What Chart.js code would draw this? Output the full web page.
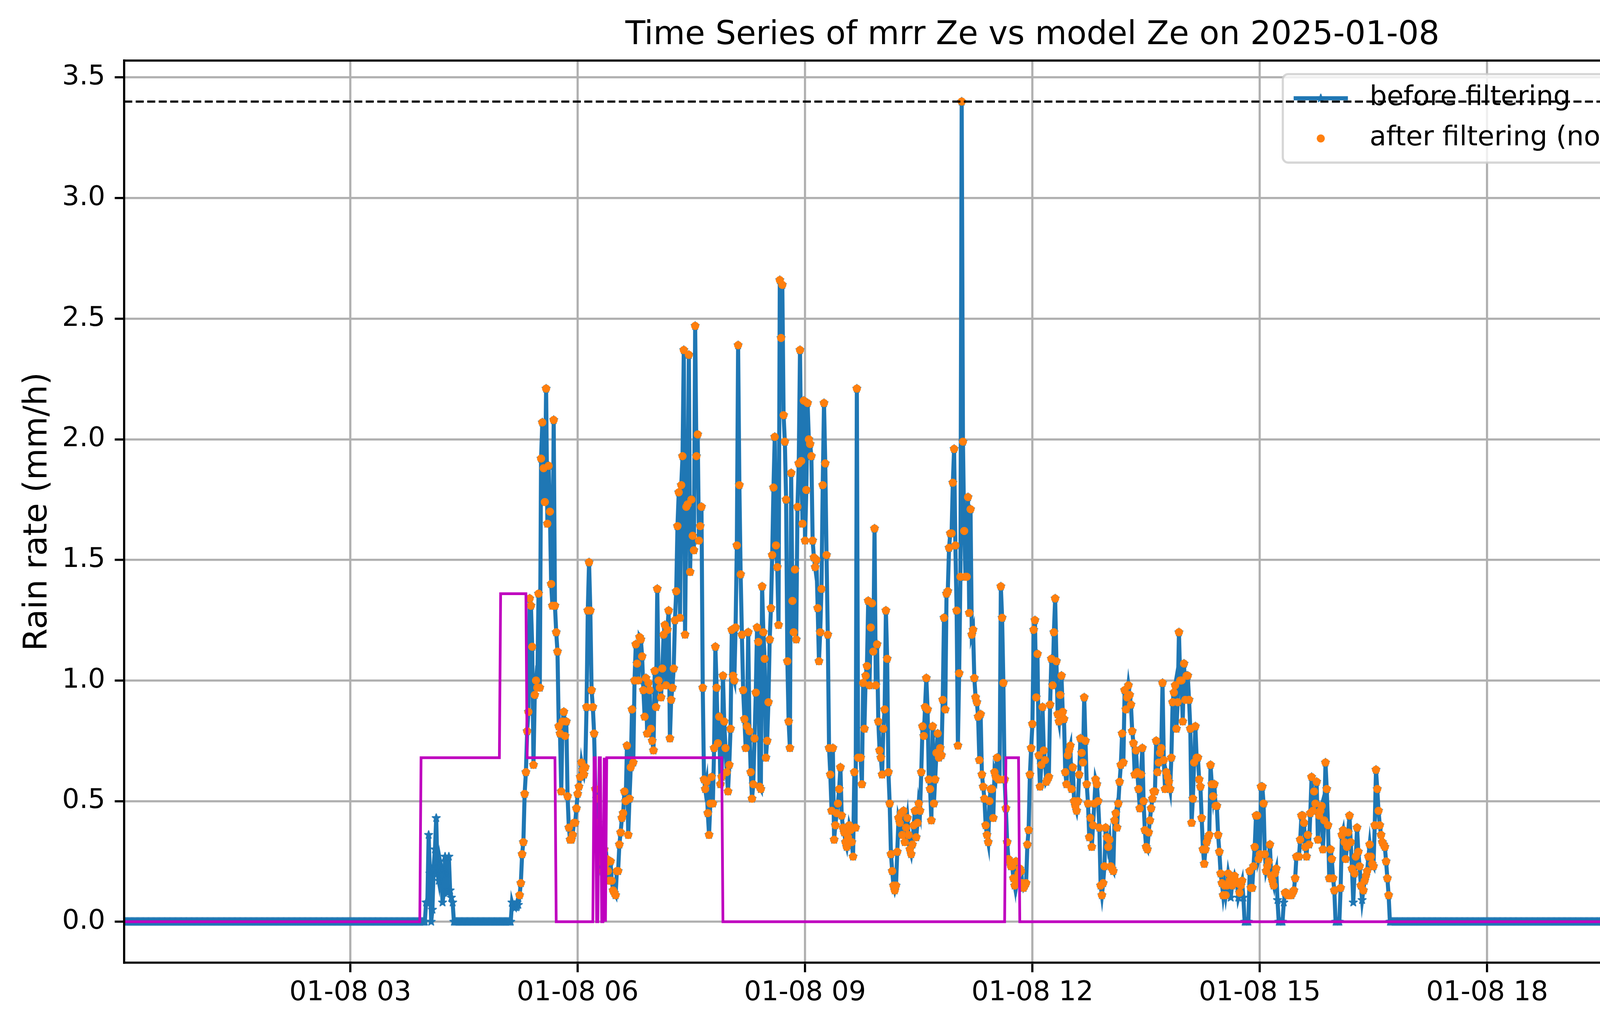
<!DOCTYPE html>
<html>
<head>
<meta charset="utf-8">
<title>Time Series of mrr Ze vs model Ze on 2025-01-08</title>
<script src="https://cdn.jsdelivr.net/npm/chart.js@4.4.0/dist/chart.umd.min.js"></script>
<style>
  html, body { margin: 0; padding: 0; background: #ffffff; }
  canvas { display: block; }
</style>
</head>
<body>
<canvas id="rainChart" width="5219" height="2631" style="width:5219px;height:2631px"></canvas>
<script>
// --- data -------------------------------------------------------------
// one reading per minute all day

// dry night, 00:01 - 03:50
const morningStart = '00:01';
const morningDryRain = [
  0,0,0,0,0,0,0,0,0,0, 0,0,0,0,0,0,0,0,0,0,
  0,0,0,0,0,0,0,0,0,0, 0,0,0,0,0,0,0,0,0,0,
  0,0,0,0,0,0,0,0,0,0, 0,0,0,0,0,0,0,0,0,0,
  0,0,0,0,0,0,0,0,0,0, 0,0,0,0,0,0,0,0,0,0,
  0,0,0,0,0,0,0,0,0,0, 0,0,0,0,0,0,0,0,0,0,
  0,0,0,0,0,0,0,0,0,0, 0,0,0,0,0,0,0,0,0,0,
  0,0,0,0,0,0,0,0,0,0, 0,0,0,0,0,0,0,0,0,0,
  0,0,0,0,0,0,0,0,0,0, 0,0,0,0,0,0,0,0,0,0,
  0,0,0,0,0,0,0,0,0,0, 0,0,0,0,0,0,0,0,0,0,
  0,0,0,0,0,0,0,0,0,0, 0,0,0,0,0,0,0,0,0,0,
  0,0,0,0,0,0,0,0,0,0, 0,0,0,0,0,0,0,0,0,0,
  0,0,0,0,0,0,0,0,0,0
];

// rain rate (mm/h) from 03:51 to 16:46
const rainStart = '03:51';
const rainRate = [
  // 03:51 short shower
  0,0,0,0,0,0,0,0,
  0,0.08,0.08,0.36,0.20,0,0.05,0.23,0.30,0.43,0.20,0.17,0.25,0.22,0.08,0.12,0.27,0.20,0.12,0.27,0.13,0.10,0.08,0,
  0,0,0,0,0,0,0,0,0,0, 0,0,0,0,0,0,0,0,0,0, 0,0,0,0,0,0,0,0,0,0, 0,0,0,0,0,0,0,0,0,0, 0,0,0,0,0,
  // 05:08
  0.08,0.06,0.07,0.06,0.08,0.07,0.11,0.16,0.28,0.33,
  0.53,0.62,0.79,0.87,1.34,1.31,1.14,0.65,0.94,1.00,
  0.97,1.36,0.97,1.92,2.07,1.88,1.74,2.21,1.65,1.89,
  1.70,1.40,1.31,2.08,1.31,1.20,1.12,0.81,0.78,0.54,
  0.83,0.87,0.77,0.83,0.52,0.39,0.34,0.34,0.36,0.41,
  0.41,0.47,0.53,0.56,0.60,0.66,0.63,0.61,0.64,0.89,
  1.29,1.49,1.29,0.96,0.89,0.78,0.55,0.51,0.41,0.30,
  0.25,0.28,0.21,0.30,0.24,0.26,0.21,0.17,0.25,0.17,
  0.13,0.12,0.11,0.21,
  // 06:32
  0.21,0.32,0.37,0.43,0.45,0.54,0.50,0.73,0.36,0.51,
  0.64,0.88,0.66,1.00,1.15,1.07,1.00,1.18,1.17,1.10,
  0.96,0.85,1.01,0.78,0.99,0.96,0.80,0.75,0.71,1.04,
  0.89,1.38,1.00,0.97,0.93,1.05,1.19,1.23,0.98,1.21,
  1.29,0.76,0.92,0.97,1.05,1.25,1.37,1.64,1.78,1.26,
  1.81,1.93,2.37,1.19,1.72,1.73,2.35,1.45,1.75,1.60,
  1.54,2.47,1.93,2.02,1.58,1.64,1.72,0.97,0.59,0.55,
  0.58,0.45,0.36,0.49,0.60,0.49,0.72,1.14,0.97,0.74,
  0.85,0.57,0.60,1.02,0.83,0.72,0.62,0.54,0.65,0.80,
  1.21,1.02,1.00,1.22,1.56,2.39,1.81,1.44,1.19,0.96,
  0.84,0.72,0.81,1.20,0.79,0.62,0.51,0.57,0.76,0.95,
  1.22,1.16,0.56,0.55,1.39,1.20,1.09,0.68,0.75,0.91,
  1.17,1.30,1.52,1.80,2.01,1.56,1.47,1.23,2.66,2.42,
  2.64,2.10,1.99,1.75,1.08,0.83,0.72,1.86,1.33,1.20,
  1.46,1.17,1.72,1.90,2.37,1.91,1.65,2.16,1.58,1.79,
  2.15,2.00,1.98,1.93,1.58,
  // 09:07
  1.51,1.47,1.50,1.30,1.08,1.20,1.38,1.81,2.15,1.90,
  1.52,1.19,0.72,0.61,0.46,0.72,0.34,0.40,0.45,0.49,
  0.55,0.64,0.44,0.39,0.37,0.33,0.31,0.35,0.40,0.38,
  0.33,0.27,0.62,0.39,2.21,0.68,0.68,0.68,0.57,0.99,
  0.80,1.02,1.06,1.33,0.98,1.22,1.32,1.12,1.63,0.98,
  1.15,0.83,0.71,0.68,0.61,0.80,0.88,1.29,1.09,0.62,
  0.49,0.28,0.21,0.15,0.13,0.15,0.29,0.43,0.41,0.45,
  0.36,0.46,0.33,0.39,0.43,0.36,0.30,0.28,0.32,0.40,
  0.46,0.35,0.41,0.49,0.46,0.62,0.81,0.77,0.89,1.01,
  0.88,0.59,0.55,0.42,0.81,0.49,0.59,0.70,0.78,0.68,
  0.72,0.69,0.92,1.26,0.88,1.36,1.37,1.55,1.61,1.61,
  1.82,1.96,1.56,1.29,0.73,1.03,1.43,3.40,1.99,1.62,
  1.43,1.43,1.76,1.28,1.71,1.19,1.21,1.01,0.93,0.91,
  0.85,0.67,0.86,0.61,0.56,0.51,0.40,0.36,0.33,0.50,
  0.55,0.55,0.43,0.62,0.60,0.68,0.59,0.59,1.39,1.26,
  0.99,0.59,0.47,0.33,0.26,
  // 11:42
  0.25,0.23,0.23,0.18,0.15,0.25,0.17,0.20,0.22,0.21,
  0.16,0.14,0.15,0.16,0.32,0.38,0.61,0.72,0.82,1.21,
  1.25,0.93,1.11,0.69,0.56,0.65,0.89,0.71,0.67,0.58,
  0.59,0.60,0.90,1.09,0.98,1.20,1.34,1.08,0.86,0.83,
  0.94,1.02,0.87,0.84,0.62,0.57,0.69,0.71,0.73,0.55,
  0.64,0.50,0.48,0.46,0.50,0.61,0.76,0.70,0.66,0.93,
  0.75,0.57,0.49,0.35,0.43,0.31,0.40,0.49,0.59,0.57,
  0.50,0.39,0.15,0.11,0.16,0.23,0.39,0.35,0.31,0.34,
  0.23,0.22,0.21,0.42,0.45,0.39,0.49,0.58,0.65,0.78,
  0.66,0.96,0.88,0.93,0.98,0.94,0.90,0.79,0.74,0.61,
  0.71,0.62,0.55,0.47,0.61,0.72,0.50,0.38,0.31,0.30,
  0.37,0.42,0.47,0.51,0.54,0.54,0.75,0.62,0.66,0.70,
  0.72,0.99,0.67,0.55,0.62,0.60,0.58,0.55,0.68,0.91,
  0.95,0.98,0.80,0.91,1.20,1.00,1.00,0.83,1.07,0.92,
  1.02,1.02,0.92,0.80,0.41,0.51,0.66,0.81,0.68,0.68,
  0.59,0.56,0.43,0.30,0.24,
  // 14:17
  0.30,0.33,0.35,0.36,0.65,0.57,0.52,0.57,0.48,0.48,
  0.36,0.29,0.20,0.16,0.11,0.15,0.11,0.15,0.20,0.17,
  0.10,0.15,0.17,0.19,0.17,0.16,0.10,0.12,0.15,0.17,
  0.10,0,0,0,0,0.21,0.14,0.14,0.23,0.31,
  0.44,0.44,0.26,0.28,0.56,0.56,0.49,0.28,0.21,0.23,
  0.25,0.32,0.19,0.17,0.15,0.20,0.22,0.09,0,0,
  0,0,0.08,0.12,0.12,0.11,0.11,0.11,0.11,0.12,
  0.13,0.18,0.27,0.27,0.27,0.34,0.44,0.44,0.41,0.31,
  0.27,0.36,0.32,0.45,0.60,0.46,0.54,0.49,0.58,0.34,
  0.44,0.46,0.48,0.30,0.42,0.66,0.55,0.40,0.18,0.30,
  0.26,0.18,0.13,0,0,0,0,0.14,0.36,0.38,
  0.33,0.26,0.31,0.37,0.44,0.33,0.22,0.08,0.20,0.27,
  0.39,0.29,0.23,0.15,0.09,0.13,0.17,0.19,0.21,0.27,
  0.32,0.27,0.24,0.23,0.40,0.63,0.55,0.46,0.40,0.36,
  0.33,0.32,0.31,0.25,0.18,0.11,0,0,0,0
];

// dry evening, 16:47 - 23:59
const eveningStart = '16:47';
const eveningDryRain = [
  0,0,0,0,0,0,0,0,0,0, 0,0,0,0,0,0,0,0,0,0,
  0,0,0,0,0,0,0,0,0,0, 0,0,0,0,0,0,0,0,0,0,
  0,0,0,0,0,0,0,0,0,0, 0,0,0,0,0,0,0,0,0,0,
  0,0,0,0,0,0,0,0,0,0, 0,0,0,0,0,0,0,0,0,0,
  0,0,0,0,0,0,0,0,0,0, 0,0,0,0,0,0,0,0,0,0,
  0,0,0,0,0,0,0,0,0,0, 0,0,0,0,0,0,0,0,0,0,
  0,0,0,0,0,0,0,0,0,0, 0,0,0,0,0,0,0,0,0,0,
  0,0,0,0,0,0,0,0,0,0, 0,0,0,0,0,0,0,0,0,0,
  0,0,0,0,0,0,0,0,0,0, 0,0,0,0,0,0,0,0,0,0,
  0,0,0,0,0,0,0,0,0,0, 0,0,0,0,0,0,0,0,0,0,
  0,0,0,0,0,0,0,0,0,0, 0,0,0,0,0,0,0,0,0,0,
  0,0,0,0,0,0,0,0,0,0, 0,0,0,0,0,0,0,0,0,0,
  0,0,0,0,0,0,0,0,0,0, 0,0,0,0,0,0,0,0,0,0,
  0,0,0,0,0,0,0,0,0,0, 0,0,0,0,0,0,0,0,0,0,
  0,0,0,0,0,0,0,0,0,0, 0,0,0,0,0,0,0,0,0,0,
  0,0,0,0,0,0,0,0,0,0, 0,0,0,0,0,0,0,0,0,0,
  0,0,0,0,0,0,0,0,0,0, 0,0,0,0,0,0,0,0,0,0,
  0,0,0,0,0,0,0,0,0,0, 0,0,0,0,0,0,0,0,0,0,
  0,0,0,0,0,0,0,0,0,0, 0,0,0,0,0,0,0,0,0,0,
  0,0,0,0,0,0,0,0,0,0, 0,0,0,0,0,0,0,0,0,0,
  0,0,0,0,0,0,0,0,0,0, 0,0,0,0,0,0,0,0,0,0,
  0,0,0,0,0,0,0,0,0,0, 0,0,0
];

// filtering: the shower before this time was too short, tiny rates are dropped
const shortRainEnd = '04:30';
const minRate = 0.1;

// model temperature (deg C)
const tempTimes = ['00:01','03:55','03:56','04:58','04:59','05:19','05:20','05:42','05:43',
  '06:12','06:13','06:14','06:15','06:16','06:17','06:18','06:19','06:20','06:21','06:22','06:23',
  '07:54','07:55','11:38','11:39','11:49','11:50','20:51','20:52','21:26','21:27','21:59','22:00',
  '23:17','23:18','23:19','23:20','23:21','23:59'];
const tempValues = [0,0,1,1,2,2,1,1,0,
  0,1,1,0,0,1,1,0,0,1,0,1,
  1,0,0,1,1,0,0,1,1,2,2,3,
  3,4,3,3,4,4];
const tempLine = 5;

const hourTicks = [3, 6, 9, 12, 15, 18, 21];
const rainTicks = [0, 0.5, 1, 1.5, 2, 2.5, 3, 3.5];
const tempTicks = [0, 1, 2, 3, 4, 5];
const legendLabels = ['before filtering', 'after filtering (not enough rain duration)'];

// --- build ------------------------------------------------------------

const PT = 500 / 72;   // figure was saved at 500 dpi
const FONT = '"DejaVu Sans", sans-serif';
const BLUE = '#1f77b4', ORANGE = '#ff7f0e', MAGENTA = '#bf00bf';

const toMinutes = t => { const [h, m] = t.split(':').map(Number); return h * 60 + m; };
function timeline(start, values) {
  const t0 = toMinutes(start);
  return values.map((v, i) => ({ x: t0 + i, y: v }));
}

const beforePts = [].concat(
  timeline(morningStart, morningDryRain),
  timeline(rainStart, rainRate),
  timeline(eveningStart, eveningDryRain));
const afterPts = beforePts.map(p => ({
  x: p.x, y: (p.x >= toMinutes(shortRainEnd) && p.y > minRate) ? p.y : null }));
const tempPts = tempTimes.map((t, i) => ({ x: toMinutes(t), y: tempValues[i] }));

const xMin = beforePts[0].x, xMax = beforePts[beforePts.length - 1].x;
const rainMax = Math.max(...rainRate);
const tempMax = Math.max(...tempValues, tempLine);

function starMarker(r, color) {
  const c = document.createElement('canvas');
  const s = Math.ceil(2 * r + 8);
  c.width = c.height = s;
  const g = c.getContext('2d');
  g.translate(s / 2, s / 2);
  g.beginPath();
  for (let i = 0; i < 10; i++) {
    const rad = i % 2 ? r * 0.382 : r;
    const a = -Math.PI / 2 + i * Math.PI / 5;
    g.lineTo(rad * Math.cos(a), rad * Math.sin(a));
  }
  g.closePath();
  g.fillStyle = color; g.fill();
  g.lineJoin = 'round'; g.lineWidth = 3; g.strokeStyle = color; g.stroke();
  return c;
}
const star = starMarker(10.5, BLUE);

function roundRect(ctx, x, y, w, h, r) {
  ctx.beginPath();
  ctx.moveTo(x + r, y);
  ctx.arcTo(x + w, y, x + w, y + h, r);
  ctx.arcTo(x + w, y + h, x, y + h, r);
  ctx.arcTo(x, y + h, x, y, r);
  ctx.arcTo(x, y, x + w, y, r);
  ctx.closePath();
}

const decorations = {
  id: 'decorations',
  beforeDatasetsDraw(chart) {
    // legend sits under the twin axis lines, like in the original
    const { ctx, chartArea: a } = chart;
    const fs = 10 * PT;
    ctx.save();
    ctx.font = fs + 'px ' + FONT;
    const textW = Math.max(...legendLabels.map(s => ctx.measureText(s).width));
    const pad = 0.4 * fs, handleLen = 2 * fs, gap = 0.8 * fs, rowH = 0.98 * fs, spacing = 0.5 * fs;
    const w = pad + handleLen + gap + textW + pad;
    const h = 2 * pad + 2 * rowH + spacing;
    const x0 = a.right - 0.5 * fs - w, y0 = a.top + 0.5 * fs;
    roundRect(ctx, x0, y0, w, h, 0.2 * fs);
    ctx.fillStyle = 'rgba(255,255,255,0.8)';
    ctx.fill();
    ctx.lineWidth = 0.8 * PT;
    ctx.strokeStyle = 'rgba(204,204,204,0.8)';
    ctx.stroke();
    legendLabels.forEach((label, i) => {
      const top = y0 + pad + i * (rowH + spacing);
      const cy = top + rowH / 2;
      const hx = x0 + pad;
      if (i === 0) {
        ctx.beginPath();
        ctx.moveTo(hx, cy); ctx.lineTo(hx + handleLen, cy);
        ctx.strokeStyle = BLUE; ctx.lineWidth = 1.5 * PT; ctx.stroke();
        ctx.drawImage(star, hx + handleLen / 2 - star.width / 2, cy - star.height / 2);
      } else {
        ctx.beginPath();
        ctx.arc(hx + handleLen / 2, cy, 10.4, 0, 2 * Math.PI);
        ctx.fillStyle = ORANGE; ctx.fill();
      }
      ctx.fillStyle = '#000000';
      ctx.textBaseline = 'alphabetic';
      ctx.textAlign = 'left';
      ctx.fillText(label, hx + handleLen + gap, top + rowH - 0.236 * fs);
    });
    ctx.restore();
  },
  afterDraw(chart) {
    const { ctx, chartArea: a } = chart;
    const midY = (a.top + a.bottom) / 2;
    ctx.save();
    // top spine
    ctx.beginPath();
    ctx.moveTo(a.left, a.top); ctx.lineTo(a.right, a.top);
    ctx.strokeStyle = '#000000'; ctx.lineWidth = 0.8 * PT; ctx.stroke();
    ctx.fillStyle = '#000000';
    ctx.font = (12 * PT) + 'px ' + FONT;
    ctx.textAlign = 'center';
    ctx.textBaseline = 'alphabetic';
    ctx.fillText('Time Series of mrr Ze vs model Ze on 2025-01-08', (a.left + a.right) / 2, a.top - 42);
    ctx.save();
    ctx.translate(a.left - 199, midY); ctx.rotate(-Math.PI / 2);
    ctx.fillText('Rain rate (mm/h)', 0, 0);
    ctx.restore();
    ctx.save();
    ctx.translate(a.right + 185, midY); ctx.rotate(-Math.PI / 2);
    ctx.fillText('Temperature (\u00b0 C)', 0, 0);
    ctx.restore();
    ctx.restore();
  }
};

const tickFont = { family: FONT, size: 10 * PT };
const gridStyle = { color: '#b0b0b0', lineWidth: 0.8 * PT, tickColor: '#000000', tickLength: 3.5 * PT, tickWidth: 0.8 * PT };

new Chart(document.getElementById('rainChart').getContext('2d'), {
  type: 'line',
  data: {
    datasets: [
      {
        label: legendLabels[0], data: beforePts, yAxisID: 'y', order: 4,
        borderColor: BLUE, backgroundColor: BLUE, borderWidth: 1.5 * PT,
        pointStyle: star, pointRadius: 10, tension: 0, clip: 0
      },
      {
        label: legendLabels[1], data: afterPts, yAxisID: 'y', order: 3, showLine: false,
        pointStyle: 'circle', pointRadius: 10.4, pointBorderWidth: 0,
        pointBackgroundColor: ORANGE, borderColor: ORANGE, backgroundColor: ORANGE, clip: 0
      },
      {
        label: 'Temperature', data: tempPts, yAxisID: 'y2', order: 2,
        borderColor: MAGENTA, borderWidth: 1 * PT, pointRadius: 0, tension: 0, clip: 0
      },
      {
        label: 'line', data: [{ x: xMin, y: tempLine }, { x: xMax, y: tempLine }], yAxisID: 'y2', order: 1,
        borderColor: '#000000', borderWidth: 0.8 * PT, borderDash: [3.7 * 0.8 * PT, 1.6 * 0.8 * PT],
        pointRadius: 0, clip: 0
      }
    ]
  },
  options: {
    responsive: false,
    devicePixelRatio: 1,
    animation: false,
    events: [],
    layout: { padding: { top: 155, left: 0, right: 0, bottom: 0 } },
    plugins: { legend: { display: false }, title: { display: false }, tooltip: { enabled: false } },
    scales: {
      x: {
        type: 'linear', min: xMin, max: xMax,
        afterBuildTicks: s => { s.ticks = hourTicks.map(hr => ({ value: hr * 60 })); },
        afterFit: s => { s.height = 167; },
        ticks: {
          callback: v => '01-08 ' + String(v / 60).padStart(2, '0'),
          font: tickFont, color: '#000000', padding: 12, maxRotation: 0, autoSkip: false
        },
        grid: gridStyle,
        border: { color: '#000000', width: 0.8 * PT, z: 1 }
      },
      y: {
        position: 'left', min: -0.05 * rainMax, max: 1.05 * rainMax,
        afterBuildTicks: s => { s.ticks = rainTicks.map(v => ({ value: v })); },
        afterFit: s => { s.width = 318; },
        ticks: { callback: v => v.toFixed(1), font: tickFont, color: '#000000', padding: 3.5 * PT },
        grid: gridStyle,
        border: { color: '#000000', width: 0.8 * PT, z: 1 }
      },
      y2: {
        position: 'right', min: -0.05 * tempMax, max: 1.05 * tempMax,
        afterBuildTicks: s => { s.ticks = tempTicks.map(v => ({ value: v })); },
        afterFit: s => { s.width = 251; },
        ticks: { callback: v => String(v), font: tickFont, color: '#000000', padding: 3.5 * PT },
        grid: Object.assign({}, gridStyle, { drawOnChartArea: false }),
        border: { color: MAGENTA, width: 0.8 * PT, z: 1 }
      }
    }
  },
  plugins: [decorations]
});
</script>
</body>
</html>
